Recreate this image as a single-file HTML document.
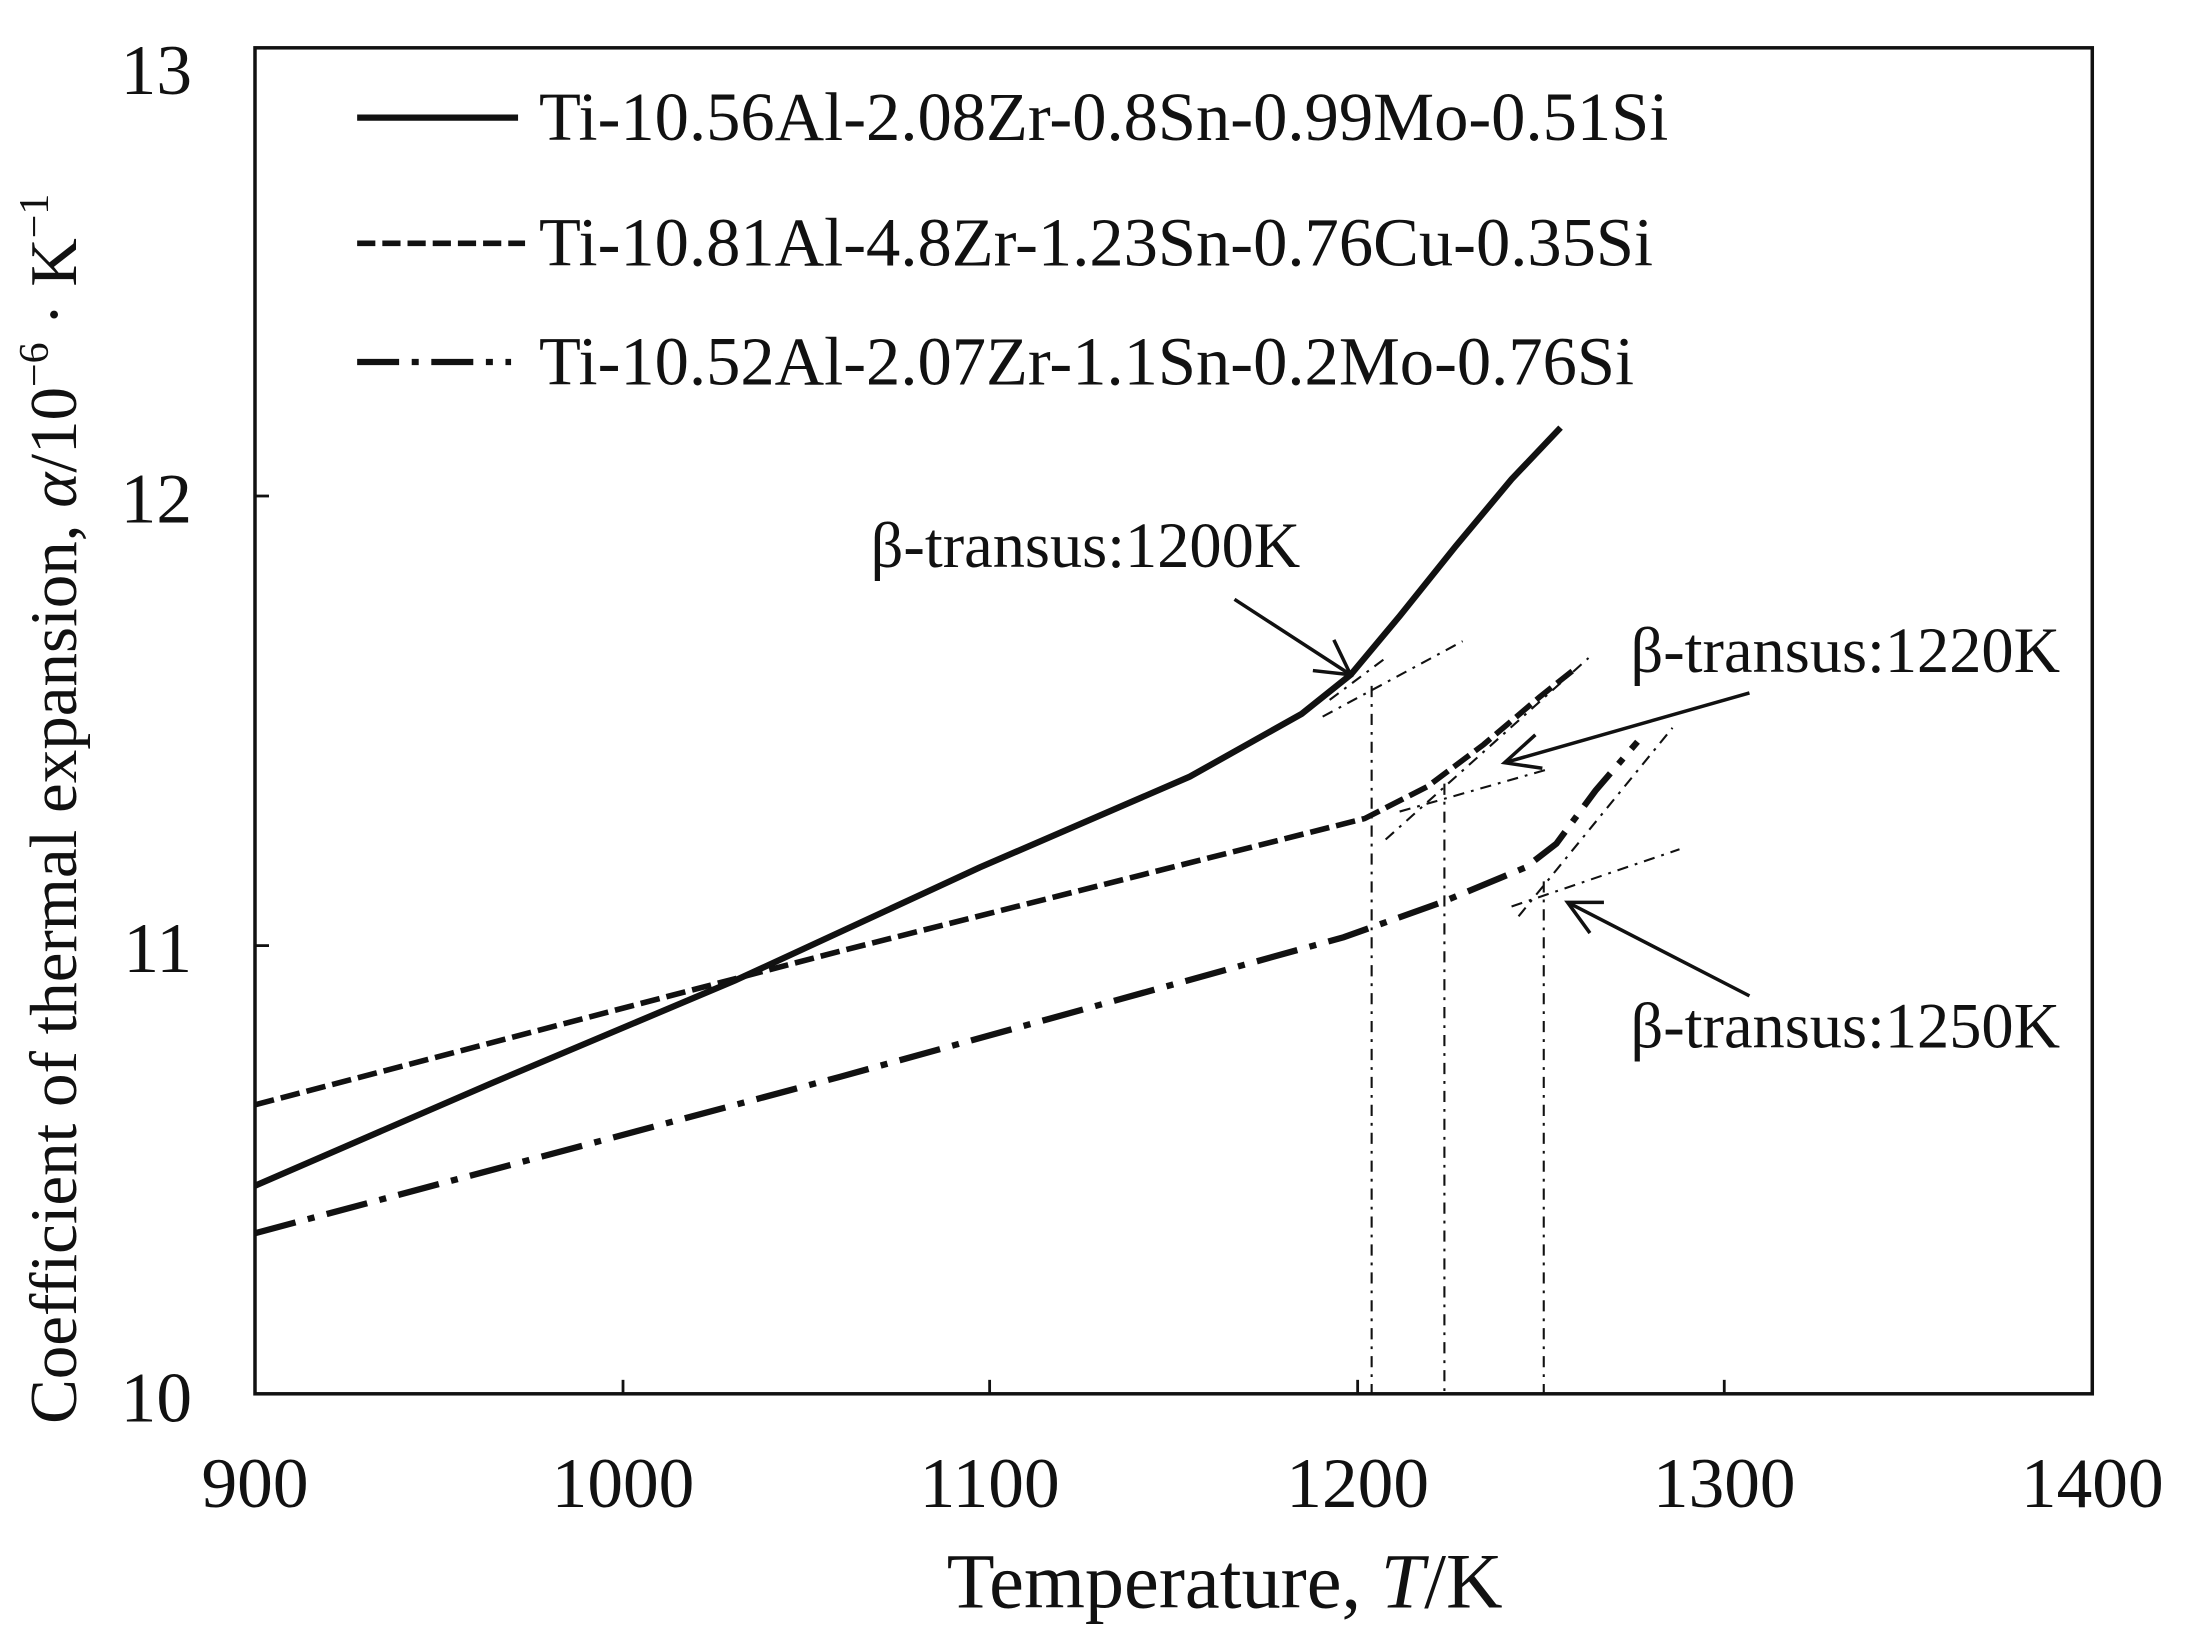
<!DOCTYPE html>
<html><head><meta charset="utf-8"><style>
html,body{margin:0;padding:0;background:#fff;}
svg{display:block;}
text{font-family:"Liberation Serif",serif;fill:#111;}
</style></head><body>
<svg width="2193" height="1640" viewBox="0 0 1560 1166" preserveAspectRatio="none" xmlns="http://www.w3.org/2000/svg">
<g transform="translate(0.23,1.24) scale(0.9954,0.9927)">
<rect x="182" y="33" width="1313" height="964" fill="none" stroke="#111" stroke-width="2.5"/>
<g stroke="#111" stroke-width="2">
<line x1="445" y1="997" x2="445" y2="987"/><line x1="707" y1="997" x2="707" y2="987"/>
<line x1="970" y1="997" x2="970" y2="987"/><line x1="1232" y1="997" x2="1232" y2="987"/>
<line x1="182" y1="354" x2="192" y2="354"/><line x1="182" y1="676" x2="192" y2="676"/>
</g>
<g font-size="51" text-anchor="end">
<text x="137" y="66">13</text><text x="137" y="373">12</text><text x="137" y="695">11</text><text x="137" y="1017">10</text>
</g>
<g font-size="51" text-anchor="middle">
<text x="182" y="1078">900</text><text x="445" y="1078">1000</text><text x="707" y="1078">1100</text>
<text x="970" y="1078">1200</text><text x="1232" y="1078">1300</text><text x="1495" y="1078">1400</text>
</g>
<text x="875" y="1150" font-size="56" text-anchor="middle">Temperature, <tspan font-style="italic">T</tspan>/K</text>
<text transform="translate(54,578) rotate(-90)" font-size="48" text-anchor="middle">Coefficient of thermal expansion, <tspan font-style="italic">α</tspan>/10<tspan font-size="30" dy="-20">−6</tspan><tspan dy="20"> · K</tspan><tspan font-size="30" dy="-20">−1</tspan></text>
<line x1="255" y1="83" x2="370" y2="83" stroke="#111" stroke-width="4.5"/>
<line x1="255" y1="173" x2="375" y2="173" stroke="#111" stroke-width="4" stroke-dasharray="13,5"/>
<line x1="255" y1="258" x2="365" y2="258" stroke="#111" stroke-width="4.5" stroke-dasharray="30,9,5,9"/>
<g font-size="49">
<text x="385" y="99">Ti-10.56Al-2.08Zr-0.8Sn-0.99Mo-0.51Si</text>
<text x="385" y="189">Ti-10.81Al-4.8Zr-1.23Sn-0.76Cu-0.35Si</text>
<text x="385" y="274">Ti-10.52Al-2.07Zr-1.1Sn-0.2Mo-0.76Si</text>
</g>
<polyline fill="none" stroke="#111" stroke-width="4.5" points="182,848 350,775 525,701 700,620 850,555 930,510 965,482 1000,440 1040,390 1080,342 1115,305"/>
<polyline fill="none" stroke="#111" stroke-width="4" stroke-dasharray="14,5" points="182,790 600,680 975,585 1020,562 1060,532 1100,498 1125,478"/>
<polyline fill="none" stroke="#111" stroke-width="4.5" stroke-dasharray="30,9,5,9" points="182,882 600,770 960,670 1030,645 1090,620 1112,603 1140,565 1170,530"/>
<g fill="none" stroke="#111" stroke-width="1.5" stroke-dasharray="8,5,2,5">
<line x1="945" y1="512" x2="1045" y2="458"/>
<line x1="950" y1="500" x2="990" y2="470"/>
<line x1="990" y1="600" x2="1135" y2="470"/>
<line x1="1000" y1="580" x2="1105" y2="550"/>
<line x1="1080" y1="648" x2="1200" y2="607"/>
<line x1="1085" y1="655" x2="1195" y2="520"/>
<line x1="980" y1="490" x2="980" y2="997"/>
<line x1="1032" y1="560" x2="1032" y2="997"/>
<line x1="1103" y1="630" x2="1103" y2="997"/>
</g>
<g fill="none" stroke="#111" stroke-width="2.5">
<line x1="882" y1="428" x2="965" y2="482"/><polyline points="938,479 965,482 953,457"/>
<line x1="1250" y1="495" x2="1075" y2="545"/><polyline points="1097,525 1075,545 1102,549"/>
<line x1="1250" y1="712" x2="1120" y2="645"/><polyline points="1146,645 1120,645 1136,667"/>
</g>
<g font-size="46">
<text x="622" y="405">β-transus:1200K</text>
<text x="1165" y="480">β-transus:1220K</text>
<text x="1165" y="749">β-transus:1250K</text>
</g>
</g>
</svg>
</body></html>
